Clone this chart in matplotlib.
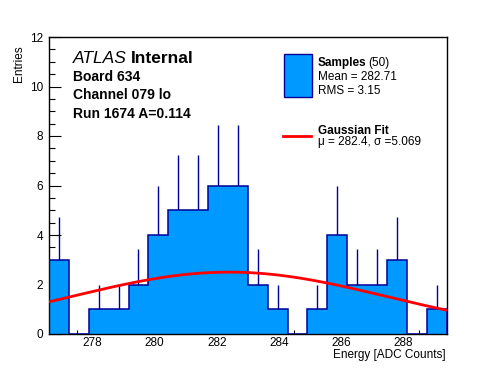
import numpy as np
import matplotlib
matplotlib.use("Agg")
import matplotlib.pyplot as plt
from matplotlib.patches import Rectangle
from matplotlib.lines import Line2D
from matplotlib.ticker import MultipleLocator

plt.rcParams['font.family'] = ['Liberation Sans', 'DejaVu Sans']

# ---- data ----
x_min, x_max = 276.6, 289.4
n_bins = 20
counts = [3, 0, 1, 1, 2, 4, 5, 5, 6, 6, 2, 1, 0, 1, 4, 2, 2, 3, 0, 1]
fit_amp = 2.5
fit_mu = 282.4
fit_sigma = 5.069
n_samples = 50
mean_val = 282.71
rms_val = 3.15

W, H = 496, 372
fig = plt.figure(figsize=(W / 100, H / 100), dpi=100)
ax = fig.add_axes([49 / W, 1 - 334 / H, (446.5 - 49) / W, (334 - 37) / H])

edges = np.linspace(x_min, x_max, n_bins + 1)
centers = 0.5 * (edges[:-1] + edges[1:])
counts = np.array(counts, dtype=float)
errs = np.sqrt(counts)

fill_c = '#0099ff'
edge_c = '#000099'

# error bars (upper halves visible above the filled histogram)
mask = counts > 0
ax.vlines(centers[mask], counts[mask], counts[mask] + errs[mask], color=edge_c, lw=1.0, zorder=1)
ax.stairs(counts, edges, fill=True, color=fill_c, zorder=2)
ax.stairs(counts, edges, fill=False, color=edge_c, lw=1.1, zorder=3)

xf = np.linspace(x_min, x_max, 400)
yf = fit_amp * np.exp(-0.5 * ((xf - fit_mu) / fit_sigma) ** 2)
ax.plot(xf, yf, color='red', lw=2.0, zorder=4)

ax.set_xlim(x_min, x_max)
ax.set_ylim(0, 12)
ax.xaxis.set_major_locator(MultipleLocator(2))
ax.xaxis.set_minor_locator(MultipleLocator(0.5))
ax.yaxis.set_major_locator(MultipleLocator(2))
ax.yaxis.set_minor_locator(MultipleLocator(0.5))
ax.tick_params(axis='both', which='both', direction='in', top=False, right=False,
               labelsize=8.5, width=0.8, color='black')
ax.tick_params(axis='y', which='major', length=8.6, pad=4.3)
ax.tick_params(axis='y', which='minor', length=4.3)
ax.tick_params(axis='x', which='major', length=6.5, pad=2.2)
ax.tick_params(axis='x', which='minor', length=3.2)
for s in ax.spines.values():
    s.set_linewidth(1.0)

def fx(px):
    return px / W

def fy(py):
    return 1 - py / H

# axis titles
fig.text(fx(19), fy(45), 'Entries', rotation=90, ha='center', va='top', fontsize=8.5)
fig.text(fx(446), fy(358), 'Energy [ADC Counts]', ha='right', va='baseline', fontsize=8.5)

# ATLAS label block
t1 = fig.text(fx(73), fy(63), 'ATLAS', fontsize=12.5, style='italic', va='baseline')
fig.canvas.draw()
bb = t1.get_window_extent()
fig.text((bb.x1 + 4) / W, fy(63), 'Internal', fontsize=12.5, weight='bold', va='baseline')
fig.text(fx(73), fy(81), 'Board 634', fontsize=10, weight='bold', va='baseline')
fig.text(fx(73), fy(99), 'Channel 079 lo', fontsize=10, weight='bold', va='baseline')
fig.text(fx(73), fy(118), 'Run 1674 A=0.114', fontsize=10, weight='bold', va='baseline')

# legend
fig.patches.append(Rectangle((fx(283.5), fy(96.5)), (311.5 - 283.5) / W, (96.5 - 53.5) / H,
                             transform=fig.transFigure, facecolor=fill_c, edgecolor=edge_c,
                             lw=1.0))
fig.lines.append(Line2D([fx(283), fx(311)], [fy(136), fy(136)], transform=fig.transFigure,
                        color='red', lw=2.0))
ts = fig.text(fx(318), fy(66), 'Samples', fontsize=8.5, weight='bold', va='baseline')
fig.canvas.draw()
bb = ts.get_window_extent()
fig.text((bb.x1 + 2) / W, fy(66), f'({n_samples})', fontsize=8.5, va='baseline')
fig.text(fx(318), fy(80), f'Mean = {mean_val:.2f}', fontsize=8.5, va='baseline')
fig.text(fx(318), fy(94), f'RMS = {rms_val:.2f}', fontsize=8.5, va='baseline')
fig.text(fx(318), fy(133.5), 'Gaussian Fit', fontsize=8.5, weight='bold', va='baseline')
fig.text(fx(318), fy(144.5), f'\u03bc = {fit_mu:.1f}, \u03c3 ={fit_sigma:.3f}', fontsize=8.5, va='baseline')

fig.savefig('out.png', dpi=100)
